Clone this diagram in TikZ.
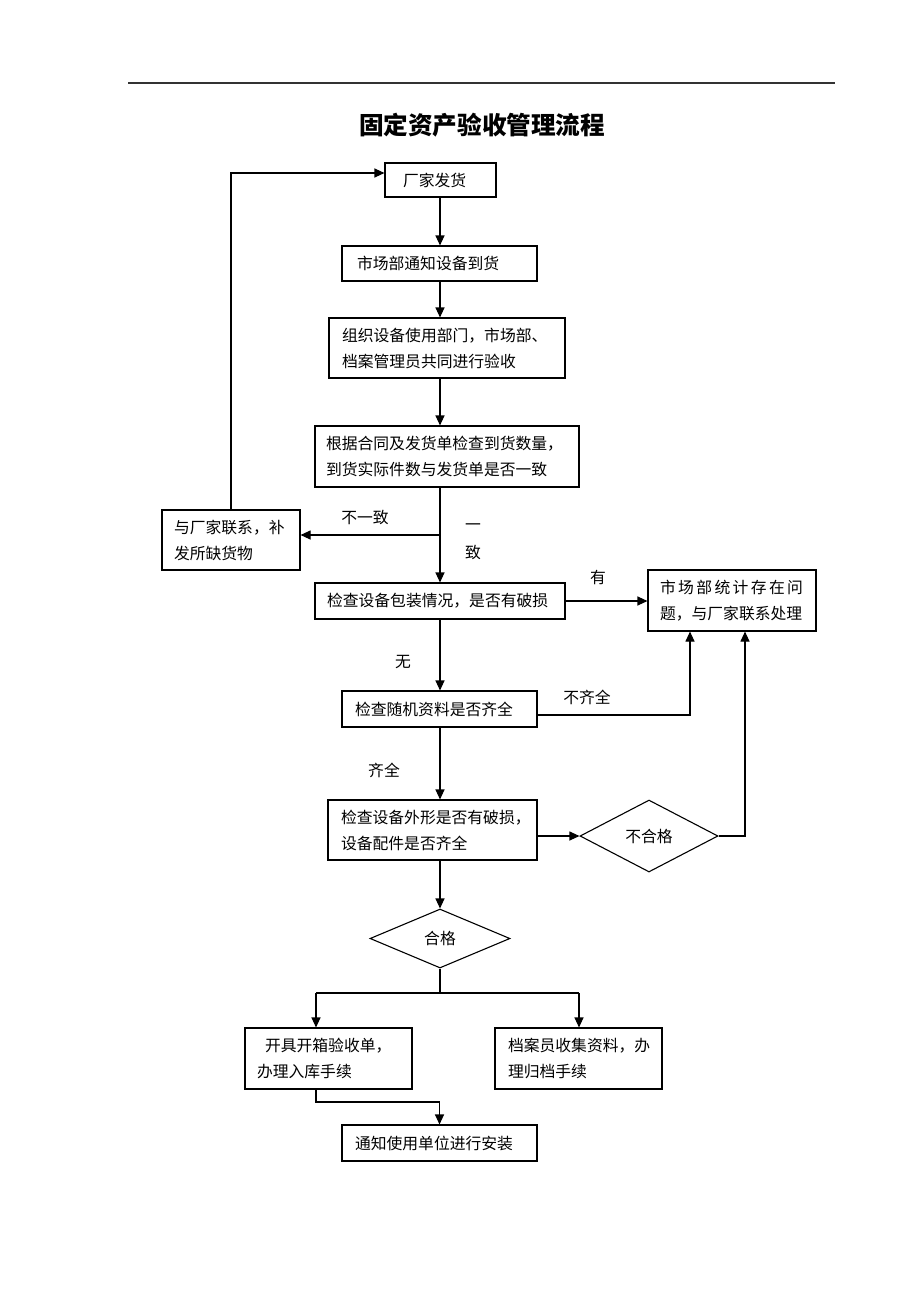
\documentclass[tikz,border=0pt]{standalone}
\usepackage{fontspec}
\setmainfont{Noto Sans CJK SC}
\usetikzlibrary{shapes.geometric,arrows.meta}
\begin{document}
\begin{tikzpicture}[x=1pt,y=-1pt,
  box/.style={draw=black,line width=1.1pt,rectangle,inner ysep=0pt,align=left,font=\fontsize{15.8}{26}\selectfont},
  dia/.style={draw=black,line width=1.1pt,diamond,inner sep=0pt,font=\fontsize{15.8}{26}\selectfont},
  lbl/.style={inner sep=0pt,font=\fontsize{15.8}{26}\selectfont},
  arr/.style={line width=1.1pt,-{Triangle[length=10pt,width=9pt]}},
  ln/.style={line width=1.1pt}]
\useasboundingbox (0,0) rectangle (920,1302);
% header rule and title
\coordinate (hl) at (128,83);
\coordinate (hr) at (835,83);
\draw[line width=1.2pt,black!80] (hl) -- (hr);
\node[inner sep=0pt,font=\fontsize{24.6}{28}\selectfont\bfseries] (title) at (482,125) {固定资产验收管理流程};
% boxes
\newcommand\bx[7]{\node[box,minimum width=#3pt,minimum height=#4pt,inner xsep=#5pt,text width={#3pt-2*#5pt}] (#1) at #2 {#6};}
\bx{fa}{(440.5,180)}{111}{34}{18}{厂家发货}{}
\bx{tz}{(439.5,263.5)}{195}{35}{15}{市场部通知设备到货}{}
\bx{zz}{(447,348)}{236}{60}{13}{组织设备使用部门，市场部、\\档案管理员共同进行验收}{}
\bx{gj}{(447,456.5)}{264}{61}{11}{根据合同及发货单检查到货数量，\\到货实际件数与发货单是否一致}{}
\bx{lx}{(231,540)}{138}{60}{12}{与厂家联系，补\\发所缺货物}{}
\bx{bz}{(440,601)}{250}{36}{12}{检查设备包装情况，是否有破损}{}
\bx{sc}{(732,600.5)}{168}{61}{12}{\makebox[143pt][s]{市\hfill 场\hfill 部\hfill 统\hfill 计\hfill 存\hfill 在\hfill 问}\\题，与厂家联系处理}{}
\bx{sj}{(439.5,709)}{195}{36}{13}{检查随机资料是否齐全}{}
\bx{wx}{(432.5,830)}{209}{60}{13}{检查设备外形是否有破损，\\设备配件是否齐全}{}
\bx{kj}{(328.5,1058.5)}{167}{61}{12}{\hspace*{8pt}开具开箱验收单，\\办理入库手续}{}
\bx{da}{(578.5,1058.5)}{167}{61}{13}{档案员收集资料，办\\理归档手续}{}
\bx{az}{(439.5,1143)}{195}{36}{13}{通知使用单位进行安装}{}
\node[dia,minimum width=138pt,minimum height=72pt] (bhg) at (649,836) {不合格};
\node[dia,minimum width=140pt,minimum height=59pt] (hg) at (440,938.5) {合格};
% labels
\node[lbl] (l1) at (365,517) {不一致};
\node[lbl] (l2a) at (473,527) {一};
\node[lbl] (l2b) at (473,552) {致};
\node[lbl] (l3) at (598,577) {有};
\node[lbl] (l4) at (403,662) {无};
\node[lbl] (l5) at (587,697) {不齐全};
\node[lbl] (l6) at (384,770) {齐全};
% connectors
\coordinate (br) at (440,535);
\draw[arr] (br |- fa.south) -- (br |- tz.north);
\draw[arr] (br |- tz.south) -- (br |- zz.north);
\draw[arr] (br |- zz.south) -- (br |- gj.north);
\draw[arr] (br |- gj.south) -- (br |- bz.north);
\draw[arr] (br) -- (br -| lx.east);
\draw[arr] (lx.north) |- ([yshift=7pt]fa.west);
\draw[arr] (bz.east) -- (bz.east -| sc.west);
\coordinate (c1) at (690,715);
\draw[arr] (c1 -| sj.east) -- (c1) -- (c1 |- sc.south);
\draw[arr] (br |- bz.south) -- (br |- sj.north);
\draw[arr] (br |- sj.south) -- (br |- wx.north);
\draw[arr] (bhg.west -| wx.east) -- (bhg.west);
\coordinate (c2) at (745,836);
\draw[arr] (bhg.east) -- (c2) -- (c2 |- sc.south);
\draw[arr] (hg.north |- wx.south) -- (hg.north);
\coordinate (c3) at (316,993);
\coordinate (c4) at (579,993);
\draw[ln] (hg.south) -- (hg.south |- c3);
\draw[ln] (c3) -- (c4);
\draw[arr] (c3) -- (c3 |- kj.north);
\draw[arr] (c4) -- (c4 |- da.north);
\coordinate (c5) at (316,1102);
\draw[arr] (c5 |- kj.south) -- (c5) -| (az.north);
\end{tikzpicture}
\end{document}
